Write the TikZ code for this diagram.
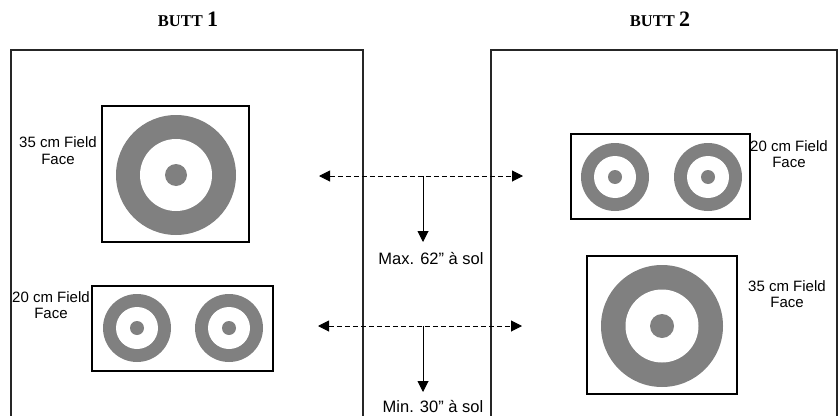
\documentclass[tikz,border=0pt]{standalone}
\usepackage{fontspec}
\setmainfont{Liberation Sans}
\newfontfamily\titlefont{Liberation Serif}
\usetikzlibrary{arrows.meta}
\definecolor{ringgray}{RGB}{128,128,128}
\begin{document}
\begin{tikzpicture}[x=1pt,y=-1pt,
  buttbox/.style={draw=black!85,line width=1.4pt},
  face/.style={draw=black,line width=1.2pt,rectangle,inner sep=0pt,outer sep=0pt},
  ring/.style={circle,fill=ringgray,inner sep=0pt,outer sep=0pt,minimum size=#1},
  hole/.style={circle,fill=white,inner sep=0pt,outer sep=0pt,minimum size=#1},
  lbl/.style={font=\fontsize{15}{16.5}\selectfont,align=center,inner sep=0pt},
  midlbl/.style={font=\fontsize{16.5}{18}\selectfont,inner sep=0pt},
  dist/.style={dash pattern=on 5pt off 3pt,line width=1pt,{Triangle[length=11pt,width=11pt]}-{Triangle[length=11pt,width=11pt]}},
  drop/.style={line width=1pt,-{Triangle[length=11pt,width=11pt]}},
  titletext/.style={font=\titlefont\bfseries,inner sep=0pt,anchor=base}
]
\path[use as bounding box] (0,0) rectangle (838,415);
\clip (0,0) rectangle (838,415);

% titles
\node[titletext] (title1) at (188,27) {\fontsize{16.5}{18}\selectfont BUTT \fontsize{22}{24}\selectfont 1};
\node[titletext] (title2) at (660,27) {\fontsize{16.5}{18}\selectfont BUTT \fontsize{22}{24}\selectfont 2};

% butts
\draw[buttbox] (11,50) rectangle (363,430);
\draw[buttbox] (491,50) rectangle (837,430);

% butt 1, 35 cm face
\node[face,minimum width=147pt,minimum height=136pt] (f35a) at (175.5,174) {};
\node[ring=120pt] (r35a) at (176,175) {};
\node[hole=72pt] at (r35a) {};
\node[ring=22pt] at (r35a) {};
\node[lbl] (l35a) at (58,150.5) {35 cm Field\\Face};

% butt 1, 20 cm face
\node[face,minimum width=181pt,minimum height=85pt] (f20a) at (182.5,328.5) {};
\node[ring=68pt] (r20a) at (137,328) {};
\node[hole=42pt] at (r20a) {};
\node[ring=14pt] at (r20a) {};
\node[ring=68pt] (r20b) at (229,328) {};
\node[hole=42pt] at (r20b) {};
\node[ring=14pt] at (r20b) {};
\node[lbl] (l20a) at (51,305) {20 cm Field\\Face};

% butt 2, 20 cm face
\node[face,minimum width=179pt,minimum height=85pt] (f20b) at (660.5,176.5) {};
\node[ring=68pt] (r20c) at (615,177) {};
\node[hole=42pt] at (r20c) {};
\node[ring=14pt] at (r20c) {};
\node[ring=68pt] (r20d) at (708,177) {};
\node[hole=42pt] at (r20d) {};
\node[ring=14pt] at (r20d) {};
\node[lbl] (l20b) at (789,154) {20 cm Field\\Face};

% butt 2, 35 cm face
\node[face,minimum width=150pt,minimum height=138pt] (f35b) at (662,325) {};
\node[ring=122pt] (r35b) at (662,326) {};
\node[hole=73pt] at (r35b) {};
\node[ring=24pt] at (r35b) {};
\node[lbl] (l35b) at (787,294) {35 cm Field\\Face};

% distance arrows
\coordinate (d1l) at (319,176);
\coordinate (d1r) at (523,176);
\coordinate (d1m) at (423,176);
\coordinate (d1e) at (423,242);
\draw[dist] (d1l) -- (d1r);
\draw[drop] (d1m) -- (d1e);
\node[midlbl] (m1) at (431,259) {Max. 62” à sol};

\coordinate (d2l) at (318,326);
\coordinate (d2r) at (522,326);
\coordinate (d2m) at (423,326);
\coordinate (d2e) at (423,392);
\draw[dist] (d2l) -- (d2r);
\draw[drop] (d2m) -- (d2e);
\node[midlbl] (m2) at (433,407) {Min. 30” à sol};
\end{tikzpicture}
\end{document}
